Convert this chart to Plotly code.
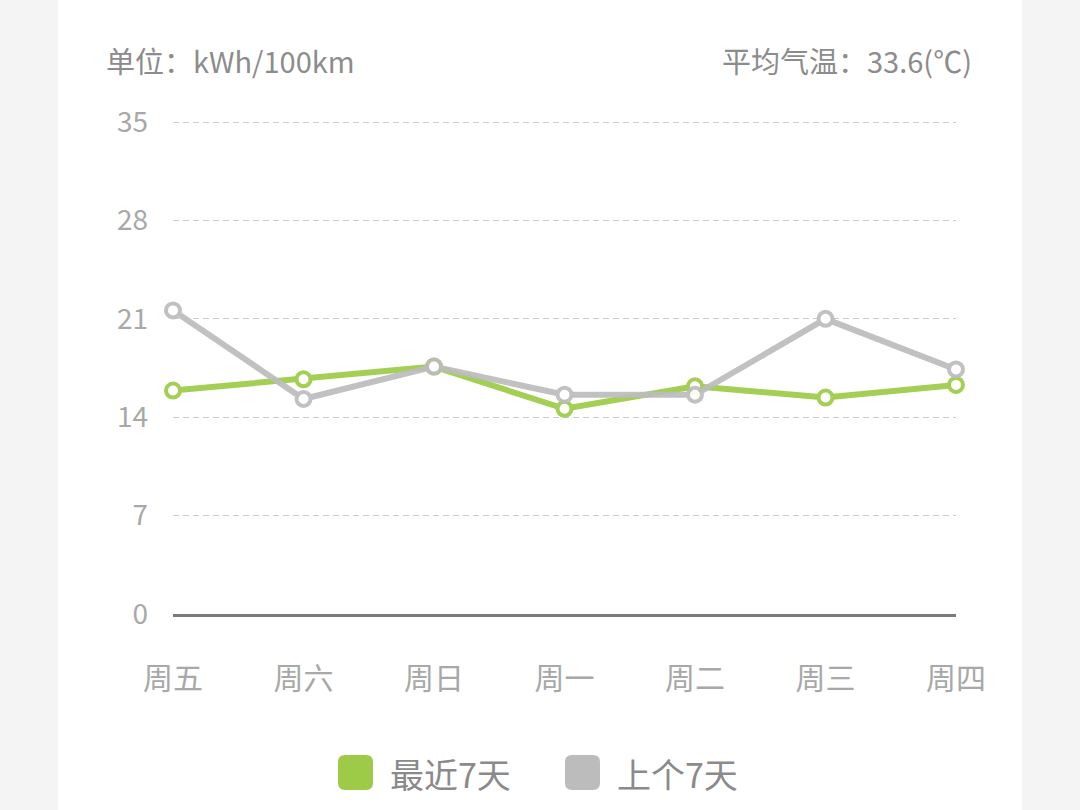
import plotly.graph_objects as go

# --- data ---
days = ["周五", "周六", "周日", "周一", "周二", "周三", "周四"]
recent_7 = [15.9, 16.7, 17.6, 14.6, 16.2, 15.4, 16.3]
prev_7 = [21.6, 15.3, 17.6, 15.6, 15.6, 21.0, 17.4]
series_names = ["最近7天", "上个7天"]
y_ticks = [0, 7, 14, 21, 28, 35]
unit_text = "单位：kWh/100km"
temp_text = "平均气温：33.6(℃)"

GREEN = "#9dcb47"
GRAY = "#bcbcbc"
FONT = "Noto Sans CJK SC"

W, H = 1080, 810
# y range runs to 36 so the 35 gridline is not sitting on the plot edge
L, R, T, B = 173, 124, 108, 196
PW, PH = W - L - R, H - T - B


def px(x):
    return (x - L) / PW


def py(y):
    return (H - B - y) / PH


def rounded_rect(x0, y0, x1, y1, r):
    # pixel box -> svg path in paper coords
    X = lambda v: px(v)
    Y = lambda v: py(v)
    return (f"M {X(x0 + r)} {Y(y0)} L {X(x1 - r)} {Y(y0)} Q {X(x1)} {Y(y0)} {X(x1)} {Y(y0 + r)} "
            f"L {X(x1)} {Y(y1 - r)} Q {X(x1)} {Y(y1)} {X(x1 - r)} {Y(y1)} "
            f"L {X(x0 + r)} {Y(y1)} Q {X(x0)} {Y(y1)} {X(x0)} {Y(y1 - r)} "
            f"L {X(x0)} {Y(y0 + r)} Q {X(x0)} {Y(y0)} {X(x0 + r)} {Y(y0)} Z")


fig = go.Figure()

for vals, color in [(recent_7, GREEN), (prev_7, GRAY)]:
    fig.add_trace(go.Scatter(
        x=days, y=vals, mode="lines+markers",
        line=dict(color=color, width=6),
        marker=dict(size=14, color="white", line=dict(color=color, width=4)),
        opacity=0.92, showlegend=False, hoverinfo="skip", cliponaxis=False,
    ))

shapes = [
    # white card over the grey page
    dict(type="rect", xref="paper", yref="paper", x0=px(58), x1=px(1022), y0=py(H + 10), y1=py(-10),
         fillcolor="white", line=dict(width=0), layer="below"),
]
annotations = [
    dict(text=unit_text, xref="paper", yref="paper", x=px(104), y=py(60), xanchor="left", yanchor="middle",
         showarrow=False, font=dict(family=FONT, size=29, color="#8c8c8c")),
    dict(text=temp_text, xref="paper", yref="paper", x=px(974), y=py(60), xanchor="right", yanchor="middle",
         showarrow=False, font=dict(family=FONT, size=29, color="#8c8c8c")),
]

# custom legend with rounded swatches
legend_items = [(series_names[0], GREEN, 338), (series_names[1], GRAY, 565)]
for name, color, x0 in legend_items:
    shapes.append(dict(type="path", xref="paper", yref="paper", path=rounded_rect(x0, 755, x0 + 35, 790, 7),
                       fillcolor=color, line=dict(width=0)))
    annotations.append(dict(text=name, xref="paper", yref="paper", x=px(x0 + 50), y=py(773),
                            xanchor="left", yanchor="middle", showarrow=False,
                            font=dict(family=FONT, size=34, color="#8a8a8a")))

fig.update_layout(
    width=W, height=H,
    margin=dict(l=L, r=R, t=T, b=B),
    paper_bgcolor="#f4f4f4", plot_bgcolor="white",
    font=dict(family=FONT),
    xaxis=dict(type="category", range=[0, 6], showgrid=False, zeroline=False, showline=True,
               linecolor="#787c7b", linewidth=2.5, ticks="", ticklabelstandoff=36,
               tickfont=dict(family=FONT, size=30, color="#a8a8a8"), fixedrange=True),
    yaxis=dict(range=[0, 36], tickvals=y_ticks, showgrid=True, gridcolor="#cccccc", gridwidth=1, griddash="6px,4px",
               zeroline=False, showline=False, ticks="", ticklabelstandoff=24,
               tickfont=dict(family=FONT, size=28, color="#a8a8a8"), fixedrange=True),
    shapes=shapes, annotations=annotations,
)

fig.write_html("out.html", config={"displayModeBar": False},
               post_script="document.body.style.margin='0';document.body.style.overflow='hidden';")
